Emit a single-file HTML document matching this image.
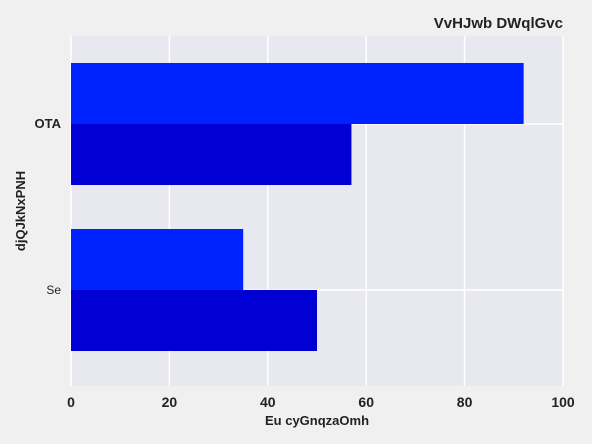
<!DOCTYPE html>
<html><head><meta charset="utf-8"><style>
body{margin:0;background:#f0f0f0;}
svg{display:block;font-family:"Liberation Sans",sans-serif;}
</style></head><body>
<svg id="c" width="592" height="444">
<rect x="0" y="0" width="592" height="444" fill="#f0f0f0"/>
<rect x="71" y="36" width="492" height="350" fill="#e8e8f0"/>
<g id="grid"></g><g id="bars"></g><g id="ticks"></g>
<text x="563" y="28" text-anchor="end" font-size="15" font-weight="bold" fill="#222">VvHJwb DWqlGvc</text>
<text x="317" y="425" text-anchor="middle" font-size="13" font-weight="bold" fill="#222">Eu cyGnqzaOmh</text>
<text transform="translate(25,211) rotate(-90)" text-anchor="middle" font-size="13" font-weight="bold" fill="#222">djQJkNxPNH</text>
</svg>
<script>
const categories=["Se","OTA"];
const series1=[35,92];
const series2=[50,57];
const xTicks=[0,20,40,60,80,100];
const NS="http://www.w3.org/2000/svg";
const x=v=>71+v*4.92;
const y=i=>290-i*166;
function mk(p,t,a){const e=document.createElementNS(NS,t);for(const k in a)e.setAttribute(k,a[k]);document.getElementById(p).appendChild(e);return e;}
xTicks.forEach(t=>{
 const g=mk("grid","line",{x1:x(t),x2:x(t),y1:36,y2:386,stroke:"#fff","stroke-width":1.5});
 
 
 const l=mk("ticks","text",{x:x(t),y:407,"text-anchor":"middle","font-size":14,"font-weight":"bold",fill:"#222"});
 l.textContent=t;
 
 
});
categories.forEach((c,i)=>{
 const g=mk("grid","line",{x1:71,x2:563,y1:y(i),y2:y(i),stroke:"#fff","stroke-width":1.5});
 
 
 const b1=mk("bars","rect",{x:x(0),y:y(i)-61,width:x(series1[i])-x(0),height:61,fill:"#0022ff"});
 
 
 const b2=mk("bars","rect",{x:x(0),y:y(i),width:x(series2[i])-x(0),height:61,fill:"#0000d4"});
 
 
 const l=mk("ticks","text",{x:61,y:y(i)+4,"text-anchor":"end","font-size":i==1?13:12,"font-weight":i==1?"bold":"normal",fill:"#222"});
 l.textContent=c;
 
 
});
</script>
</body></html>
